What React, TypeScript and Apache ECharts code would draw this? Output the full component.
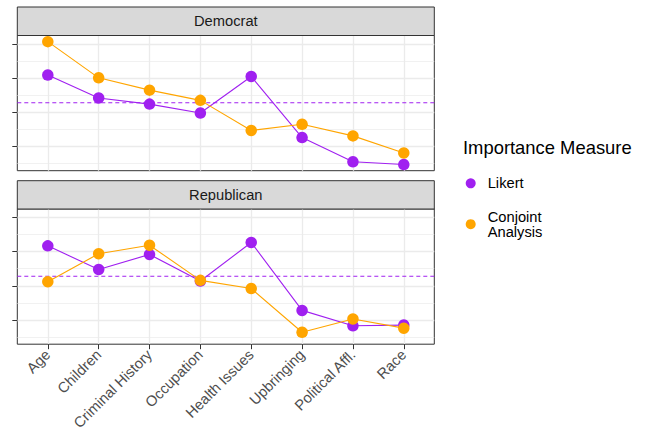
import React, { useEffect, useRef } from 'react';
import * as echarts from 'echarts';

const categories = ['Age', 'Children', 'Criminal History', 'Occupation', 'Health Issues', 'Upbringing', 'Political Affl.', 'Race'];
const panelNames = ['Democrat', 'Republican'];
const seriesNames = ['Likert', 'Conjoint Analysis'];
const seriesColors = ['#A020F0', '#FFA500'];

const demLikert = [3.09, 2.42, 2.24, 1.98, 3.05, 1.26, 0.55, 0.47];
const demConjoint = [4.07, 3.01, 2.65, 2.35, 1.47, 1.65, 1.31, 0.81];
const repLikert = [3.17, 2.48, 2.92, 2.14, 3.27, 1.28, 0.83, 0.85];
const repConjoint = [2.12, 2.94, 3.19, 2.16, 1.92, 0.64, 1.03, 0.76];
const referenceLine = 2.28;

const yMajorTicks = [1, 2, 3, 4];
const yMinorTicks = [0.5, 1.5, 2.5, 3.5];

const legendTitle = 'Importance Measure';

export default function App() {
  const ref = useRef<HTMLDivElement>(null);

  useEffect(() => {
    const chart = echarts.init(ref.current!, null, { renderer: 'svg' });
    const panelData = [
      [demLikert, demConjoint],
      [repLikert, repConjoint],
    ];
    const all = [...demLikert, ...demConjoint, ...repLikert, ...repConjoint];
    const dMin = Math.min(...all);
    const dMax = Math.max(...all);
    const pad = (dMax - dMin) * 0.05;
    const yMin = dMin - pad;
    const yMax = dMax + pad;
    const xMin = 1 - 0.6;
    const xMax = categories.length + 0.6;
    const xTicks = categories.map((_, k) => k + 1);

    const font = '"Liberation Sans", Arial, Helvetica, sans-serif';
    const L = 17.3;
    const R = 434.3;
    const W = R - L;
    const H = 135.2;
    const tops = [35.5, 209];
    const stripTops = [7, 180.7];

    const grid = tops.map((t) => ({
      left: L,
      top: t,
      width: W,
      height: H,
      show: true,
      borderColor: '#333333',
      borderWidth: 1,
      backgroundColor: '#FFFFFF',
    }));

    const xAxis = tops.map((_, i) => ({
      type: 'value',
      gridIndex: i,
      min: xMin,
      max: xMax,
      axisLine: { show: false },
      axisTick: {
        show: i === 1,
        customValues: xTicks,
        length: 5,
        lineStyle: { color: '#333333', width: 1 },
      },
      axisLabel: {
        show: i === 1,
        customValues: xTicks,
        rotate: 45,
        margin: 8,
        padding: [8, 0, 0, 0],
        formatter: (v: number) => categories[Math.round(v) - 1] ?? '',
        color: '#4D4D4D',
        fontSize: 14.7,
        fontFamily: font,
      },
      splitLine: { show: true, lineStyle: { color: '#EBEBEB', width: 1.3 } },
    }));

    const yAxis: any[] = [];
    tops.forEach((_, i) => {
      yAxis.push({
        type: 'value',
        gridIndex: i,
        min: yMin,
        max: yMax,
        axisLine: { show: false },
        axisTick: {
          show: true,
          customValues: yMajorTicks,
          length: 5,
          lineStyle: { color: '#333333', width: 1 },
        },
        axisLabel: { show: false },
        splitLine: { show: true, lineStyle: { color: '#EBEBEB', width: 1.3 } },
      });
      yAxis.push({
        type: 'value',
        gridIndex: i,
        min: yMin,
        max: yMax,
        axisLine: { show: false },
        axisTick: { show: false, customValues: yMinorTicks },
        axisLabel: { show: false },
        splitLine: { show: true, lineStyle: { color: '#EBEBEB', width: 0.7 } },
      });
    });

    const series: any[] = [];
    panelData.forEach((pair, i) => {
      series.push({
        type: 'line',
        name: 'Reference ' + panelNames[i],
        xAxisIndex: i,
        yAxisIndex: 2 * i,
        data: [
          [xMin, referenceLine],
          [xMax, referenceLine],
        ],
        showSymbol: false,
        silent: true,
        color: seriesColors[0],
        lineStyle: { color: seriesColors[0], type: [4, 3], width: 1 },
        z: 2,
      });
      pair.forEach((vals, s) => {
        series.push({
          type: 'line',
          name: seriesNames[s],
          xAxisIndex: i,
          yAxisIndex: 2 * i,
          data: vals.map((v, k) => [k + 1, v]),
          showSymbol: false,
          clip: false,
          color: seriesColors[s],
          lineStyle: { color: seriesColors[s], width: 1.1 },
          itemStyle: { color: seriesColors[s] },
          z: 2,
        });
      });
    });
    panelData.forEach((pair, i) => {
      pair.forEach((vals, s) => {
        series.push({
          type: 'scatter',
          name: seriesNames[s],
          xAxisIndex: i,
          yAxisIndex: 2 * i,
          data: vals.map((v, k) => [k + 1, v]),
          symbol: 'circle',
          symbolSize: 11.5,
          clip: false,
          itemStyle: { color: seriesColors[s], opacity: 1 },
          z: 3,
        });
      });
    });

    const graphic: any[] = [];
    panelNames.forEach((name, i) => {
      graphic.push({
        type: 'rect',
        shape: { x: L, y: stripTops[i], width: W, height: tops[i] - stripTops[i] },
        style: { fill: '#D9D9D9', stroke: '#333333', lineWidth: 1 },
        z: 10,
      });
      graphic.push({
        type: 'text',
        x: L + W / 2,
        y: (stripTops[i] + tops[i]) / 2,
        style: {
          text: name,
          fill: '#1A1A1A',
          font: `14.7px ${font}`,
          textAlign: 'center',
          textVerticalAlign: 'middle',
        },
        z: 11,
      });
    });
    graphic.push({
      type: 'text',
      x: 463,
      y: 147,
      style: {
        text: legendTitle,
        fill: '#000000',
        font: `18.4px ${font}`,
        textAlign: 'left',
        textVerticalAlign: 'middle',
      },
      z: 11,
    });

    chart.setOption({
      animation: false,
      grid,
      xAxis,
      yAxis,
      series,
      graphic,
      legend: {
        data: seriesNames,
        orient: 'vertical',
        left: 465.7,
        top: 175.8,
        padding: 0,
        itemGap: 18.4,
        itemWidth: 10,
        itemHeight: 10,
        icon: 'circle',
        selectedMode: false,
        formatter: (n: string) => n.split(' ').join('\n'),
        textStyle: {
          color: '#000000',
          fontSize: 14.7,
          fontFamily: font,
          lineHeight: 15,
          padding: [0, 0, 0, 7],
        },
      },
    });

    return () => chart.dispose();
  }, []);

  return (
    <div
      ref={ref}
      style={{ position: 'absolute', left: 0, top: 0, width: 649, height: 434, background: '#FFFFFF' }}
    />
  );
}
